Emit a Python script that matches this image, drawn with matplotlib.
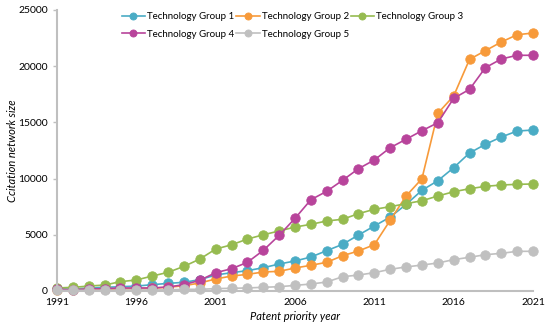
import matplotlib

matplotlib.use("Agg")
import matplotlib.pyplot as plt

plt.rcParams["font.family"] = ["Lato", "DejaVu Sans"]

years = list(range(1991, 2022))

group1 = [180, 180, 270, 330, 380, 440, 560, 680, 770, 1010, 1420, 1630, 1810, 2070,
          2400, 2670, 3020, 3590, 4150, 4980, 5780, 6580, 7700, 8960, 9810, 10970,
          12280, 13050, 13700, 14230, 14320]
group2 = [120, 120, 150, 150, 180, 210, 240, 330, 470, 710, 1070, 1330, 1480, 1690,
          1750, 2046, 2286, 2553, 3140, 3560, 4120, 6290, 8450, 9990, 15810, 17350,
          20610, 21380, 22150, 22800, 22950]
group3 = [270, 325, 440, 530, 830, 980, 1330, 1660, 2190, 2840, 3730, 4110, 4620, 5000,
          5340, 5690, 5930, 6230, 6380, 6880, 7270, 7500, 7770, 8030, 8450, 8830,
          9100, 9310, 9430, 9490, 9520]
group4 = [150, 90, 180, 210, 270, 270, 270, 360, 560, 950, 1630, 1980, 2550, 3610,
          4950, 6460, 8120, 8870, 9850, 10880, 11655, 12750, 13500, 14260, 14970,
          17140, 17940, 19870, 20640, 20970, 20970]
group5 = [50, 50, 60, 60, 70, 80, 90, 100, 150, 150, 210, 240, 270, 330,
          380, 500, 620, 800, 1270, 1420, 1630, 1930, 2140, 2310, 2490, 2790,
          3000, 3230, 3350, 3530, 3530]

series = [
    ("Technology Group 1", group1, "#4aacc5"),
    ("Technology Group 2", group2, "#f79a3a"),
    ("Technology Group 3", group3, "#96bb50"),
    ("Technology Group 4", group4, "#b8449b"),
    ("Technology Group 5", group5, "#c0c0c0"),
]

fig = plt.figure(figsize=(5.5, 3.32), dpi=100)
ax = fig.add_axes([0.1036, 0.1235, 0.8655, 0.8464])

handles = []
for name, vals, color in series:
    ln, = ax.plot(years, vals, "-o", color=color, lw=1.2, ms=6.8,
                  markeredgewidth=0.6, markeredgecolor=color, label=name,
                  clip_on=False)
    handles.append(ln)

ax.set_xlim(1991, 2021)
ax.set_ylim(0, 25000)
ax.set_xticks(range(1991, 2022, 5))
ax.set_yticks(range(0, 25001, 5000))
ax.tick_params(labelsize=7.5, color="#bfbfbf", length=3, width=1)
ax.tick_params(axis="x", length=0, pad=5)
for s in ("top", "right"):
    ax.spines[s].set_visible(False)
for s in ("left", "bottom"):
    ax.spines[s].set_color("#bfbfbf")
    ax.spines[s].set_linewidth(1.5)
ax.set_xlabel("Patent priority year", fontsize=8, style="italic", labelpad=3)
ax.set_ylabel("Ccitation network size", fontsize=8, style="italic", labelpad=0)

# row-major order: G1 G2 G3 / G4 G5
order = [0, 3, 1, 4, 2]
ax.legend([handles[i] for i in order], [series[i][0] for i in order],
          loc="upper left", bbox_to_anchor=(0.128, 1.005), ncol=3, frameon=False,
          fontsize=7, handlelength=2.4, columnspacing=0.2, handletextpad=0.2,
          labelspacing=0.85, borderaxespad=0, markerscale=0.75)

fig.savefig("out.png", dpi=100)
